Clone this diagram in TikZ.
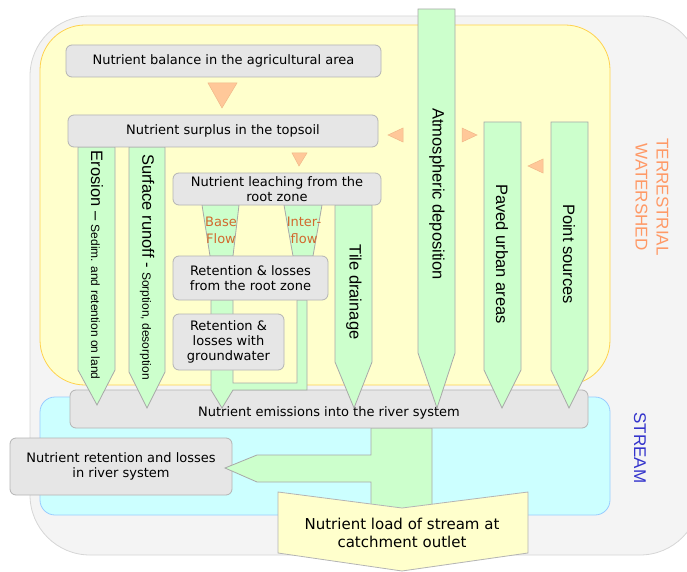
\documentclass[tikz,border=0pt]{standalone}
\usepackage{fontspec}
\setmainfont{DejaVu Sans}
\newfontfamily\arialfont{Liberation Sans}
\usepackage{tikz}
\usetikzlibrary{calc}
\definecolor{outerfill}{HTML}{F4F4F4}
\definecolor{outerline}{HTML}{D6D6D6}
\definecolor{yelfill}{HTML}{FFFFCC}
\definecolor{yelline}{HTML}{FFD24D}
\definecolor{cyanfill}{HTML}{CCFFFF}
\definecolor{cyanline}{HTML}{99CCFF}
\definecolor{boxgray}{HTML}{E6E6E6}
\definecolor{boxline}{HTML}{B4B4B4}
\definecolor{flowgreen}{HTML}{CCFFCC}
\definecolor{flowline}{HTML}{A8A8A8}
\definecolor{peach}{HTML}{FFC899}
\definecolor{peachline}{HTML}{F0B888}
\definecolor{flowtext}{HTML}{D2692E}
\definecolor{terra}{HTML}{FF9966}
\definecolor{streamblue}{HTML}{3333CC}
\newcommand\boxfont{\fontsize{13}{15}\selectfont}
\newcommand\loadfont{\fontsize{15}{18}\selectfont}
\newcommand\bigv{\arialfont\fontsize{16.5}{19}\selectfont}
\newcommand\smallv{\fontsize{12}{14}\selectfont}
\tikzset{
  box/.style={draw=boxline, fill=boxgray, rounded corners=6pt, align=center, inner sep=0pt, line width=0.8pt, font=\boxfont},
  flow/.style={draw=flowline, fill=flowgreen, line width=0.8pt, line join=miter},
  tri/.style={draw=peachline, fill=peach, line width=0.5pt},
  vlab/.style={rotate=-90, inner sep=0pt, font=\bigv},
  flowlab/.style={align=center, text=flowtext, font=\fontsize{13}{17}\selectfont}
}
\begin{document}
\begin{tikzpicture}[x=1pt,y=-1pt]
\useasboundingbox (0,0) rectangle (687,572);
% the three zones
\draw[draw=outerline, fill=outerfill, line width=0.8pt, rounded corners=60pt] (30,16) rectangle (700,555);
\draw[draw=yelline, fill=yelfill, line width=0.8pt, rounded corners=45pt] (40,25) rectangle (610,385);
\draw[draw=cyanline, fill=cyanfill, line width=0.8pt, rounded corners=15pt] (40,397) rectangle (610,515);
% stream part
\node[box, minimum width=222pt, minimum height=57pt] (retriver) at (121,466.5) {Nutrient retention and losses\\in river system};
\draw[flow] (371,428) -- (371,455) -- (257,455) -- (225,468) -- (257,482) -- (371,482) -- (371,505) -- (402,511) -- (432,505) -- (432,428) -- cycle;
\draw[draw=boxline, fill=yelfill, line width=0.8pt] (278,492) -- (402,508) -- (528,492) -- (528,553) -- (402,571) -- (278,553) -- cycle;
\node[font=\loadfont, align=center] (load) at (402,533) {Nutrient load of stream at\\catchment outlet};
\node[box, minimum width=518pt, minimum height=38pt, text height=18pt, text depth=2.6pt] (emis) at (329,409) {Nutrient emissions into the river system};
% flows into the river system
\draw[flow] (78,147) -- (115,147) -- (115,370) -- (97,405) -- (78,370) -- cycle;
\draw[flow] (129,147) -- (165,147) -- (165,372) -- (147,408) -- (129,372) -- cycle;
\draw[flow] (202,205) -- (239,205) -- (233,256) -- (210,256) -- cycle;
\draw[flow] (284,205) -- (322,205) -- (313,256) -- (293,256) -- cycle;
\draw[flow] (211,300) -- (233,300) -- (233,383) -- (297,383) -- (297,300) -- (307,300) -- (307,390) -- (233,390) -- (222,408) -- (211,390) -- cycle;
\draw[flow] (335,205) -- (372,205) -- (372,362) -- (354,408) -- (335,362) -- cycle;
\draw[flow] (418,9) -- (455,9) -- (455,353) -- (437,408) -- (418,353) -- cycle;
\draw[flow] (484,122) -- (521,122) -- (521,370) -- (502,408) -- (484,370) -- cycle;
\draw[flow] (551,122) -- (588,122) -- (588,370) -- (569,408) -- (551,370) -- cycle;
% boxes on the land
\node[box, minimum width=315pt, minimum height=32pt] (bal) at (223.5,61) {Nutrient balance in the agricultural area};
\node[box, minimum width=310pt, minimum height=32pt] (sur) at (223,131) {Nutrient surplus in the topsoil};
\node[box, minimum width=208pt, minimum height=32pt] (leach) at (277,189) {Nutrient leaching from the\\root zone};
\node[box, minimum width=155pt, minimum height=44pt] (retroot) at (250.5,278) {Retention \& losses\\from the root zone};
\node[box, minimum width=111pt, minimum height=56pt] (retgw) at (228.5,342) {Retention \&\\losses with\\groundwater};
% small triangles
\filldraw[tri] (208,83) -- (237,83) -- (222,108) -- cycle;
\filldraw[tri] (292,153) -- (307,153) -- (299,166) -- cycle;
\filldraw[tri] (403,128) -- (403,142) -- (388,135) -- cycle;
\filldraw[tri] (462,128) -- (462,142) -- (477,135) -- cycle;
\filldraw[tri] (543,159) -- (543,173) -- (528,166) -- cycle;
% labels of the flows
\node[vlab] (lero) at (97,265) {Erosion – {\smallv Sedim. and retention on land}};
\node[vlab] (lsur) at (147,267) {Surface runoff - {\smallv Sorption, desorption}};
\node[vlab] (ltile) at (354,292) {Tile drainage};
\node[vlab] (latm) at (437,194) {Atmospheric deposition};
\node[vlab] (lpav) at (502,254) {Paved urban areas};
\node[vlab] (lpnt) at (569,254) {Point sources};
\node[flowlab] (lbase) at (221,230) {Base\\Flow};
\node[flowlab] (linter) at (304,230) {Inter-\\flow};
% zone names
\node[rotate=-90, align=center, text=terra, font=\arialfont\fontsize{17}{21}\selectfont] (lterr) at (652,197) {TERRESTRIAL\\WATERSHED};
\node[rotate=-90, text=streamblue, font=\arialfont\fontsize{17}{21}\selectfont] (lstream) at (640,448) {STREAM};
\end{tikzpicture}
\end{document}
